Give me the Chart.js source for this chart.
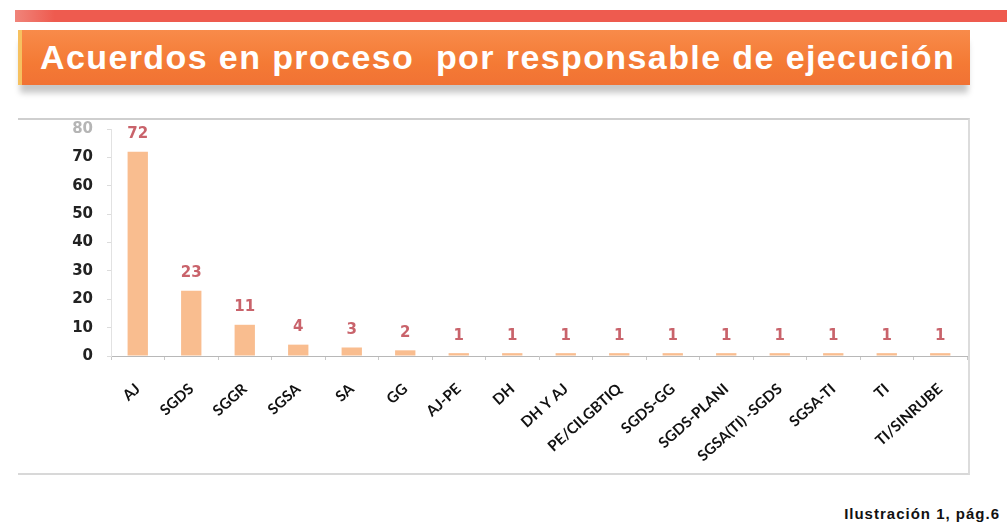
<!DOCTYPE html>
<html>
<head>
    <title>Acuerdos en proceso por responsable de ejecución</title>
    <script src="https://cdn.jsdelivr.net/npm/chart.js"></script>
    <style>
        body {
            margin: 0;
            width: 1007px;
            height: 524px;
            background: #ffffff;
            position: relative;
            overflow: hidden;
            font-family: "Liberation Sans", Arial, sans-serif;
        }

        /* red band at the very top */
        .topband {
            position: absolute;
            left: 15px;
            top: 10px;
            width: 992px;
            height: 12px;
            background: linear-gradient(to right, #f0847a 0%, #ee5b4f 4%, #ee5b4f 100%);
        }

        /* orange title box */
        .titlebox {
            position: absolute;
            left: 18px;
            top: 30px;
            width: 952px;
            height: 55px;
            background: linear-gradient(to bottom, #f88b4a 0%, #f47a35 60%, #f17234 100%);
            border-left: 4px solid #f6c160;
            box-shadow: 0 10px 6px -2px #c8c8c8;
            color: #ffffff;
            font-weight: bold;
            font-size: 34px;
            line-height: 55px;
            padding-left: 18px;
            box-sizing: border-box;
            letter-spacing: 1.4px;
            white-space: nowrap;
        }

        /* frame round the chart */
        .frame {
            position: absolute;
            left: 18px;
            top: 118px;
            width: 952px;
            height: 357px;
            border-top: 2px solid #cfcfcf;
            border-right: 2px solid #dcdcdc;
            border-bottom: 2px solid #d8d8d8;
            box-sizing: border-box;
        }

        .caption {
            position: absolute;
            right: 7px;
            top: 505px;
            font-size: 15px;
            font-weight: bold;
            letter-spacing: 1px;
            color: #111;
        }

        #chart {
            position: absolute;
            left: 0;
            top: 0;
        }
    </style>
</head>
<body>
    <div class="topband"></div>
    <div class="titlebox">Acuerdos en proceso&nbsp; por responsable de ejecución</div>
    <div class="frame"></div>
    <div class="caption">Ilustración 1, pág.6</div>

    <canvas id="chart" width="1007" height="524"></canvas>

    <script>
        // Responsables (categories)
        const responsables = ['AJ', 'SGDS', 'SGGR', 'SGSA', 'SA', 'GG', 'AJ-PE', 'DH', 'DH Y AJ',
            'PE/CILGBTIQ', 'SGDS-GG', 'SGDS-PLANI', 'SGSA(TI) -SGDS', 'SGSA-TI', 'TI', 'TI/SINRUBE'];
        // Acuerdos en proceso per responsable
        const acuerdos = [72, 23, 11, 4, 3, 2, 1, 1, 1, 1, 1, 1, 1, 1, 1, 1];
        // Y axis ticks
        const yTicks = [0, 10, 20, 30, 40, 50, 60, 70, 80];

        // draws the value over each bar
        const valueLabels = {
            id: 'valueLabels',
            afterDatasetsDraw(chart) {
                const ctx = chart.ctx;
                const meta = chart.getDatasetMeta(0);
                ctx.save();
                ctx.font = 'bold 15px "DejaVu Sans", sans-serif';
                ctx.fillStyle = '#c9636b';
                ctx.textAlign = 'center';
                ctx.textBaseline = 'bottom';
                meta.data.forEach((bar, i) => {
                    ctx.fillText(chart.data.datasets[0].data[i], bar.x, bar.y - 10);
                });
                ctx.restore();
            }
        };

        const config = {
            type: 'bar',
            data: {
                labels: responsables,
                datasets: [{
                    label: 'Acuerdos',
                    data: acuerdos,
                    backgroundColor: '#f9bd8f',
                    borderWidth: 0,
                    barPercentage: 0.38,
                    categoryPercentage: 1
                }]
            },
            options: {
                responsive: false,
                animation: false,
                layout: {
                    padding: { left: 60, right: 40, top: 129, bottom: 62 }
                },
                plugins: {
                    legend: { display: false },
                    title: { display: false },
                    tooltip: { enabled: false }
                },
                scales: {
                    x: {
                        afterFit(scale) { scale.height = 106; },
                        grid: {
                            drawOnChartArea: false,
                            color: '#c8c8c8',
                            tickLength: 4
                        },
                        border: { color: '#b8b8b8', width: 1 },
                        ticks: {
                            autoSkip: false,
                            minRotation: 42,
                            maxRotation: 42,
                            padding: 20,
                            color: '#111111',
                            font: { family: 'Lato', weight: 'bold', size: 15 }
                        }
                    },
                    y: {
                        min: 0,
                        max: 80,
                        afterFit(scale) { scale.width = 51; },
                        afterBuildTicks(scale) {
                            scale.ticks = yTicks.map(v => ({ value: v }));
                        },
                        grid: {
                            drawOnChartArea: false,
                            color: '#dcdcdc',
                            tickLength: 4
                        },
                        border: { color: '#e2e2e2', width: 1 },
                        ticks: {
                            padding: 14,
                            color: (c) => c.tick.value === 80 ? '#b5b5b5' : '#222222',
                            font: { family: 'DejaVu Sans', weight: 'bold', size: 15 }
                        }
                    }
                }
            },
            plugins: [valueLabels]
        };

        new Chart(document.getElementById('chart').getContext('2d'), config);
    </script>
</body>
</html>
